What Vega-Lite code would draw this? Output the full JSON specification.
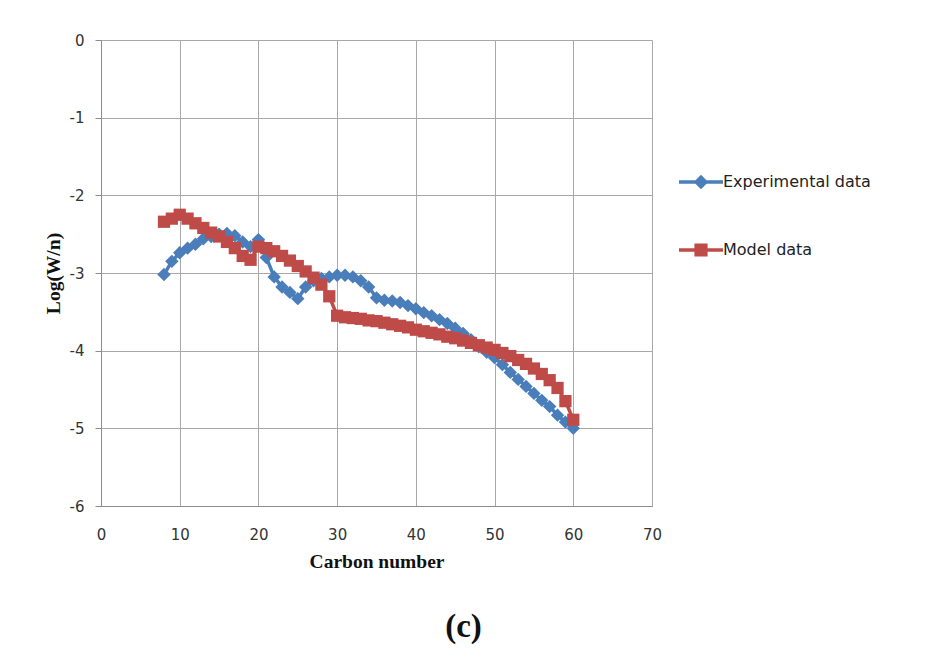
{
  "$schema": "https://vega.github.io/schema/vega-lite/v6.json",
  "description": "Log(W/n) versus carbon number, experimental against model data.",
  "width": 551,
  "height": 466,
  "autosize": {"type": "none"},
  "padding": {"left": 101, "top": 40, "right": 274, "bottom": 162},
  "background": "white",
  "config": {
    "view": {"stroke": null},
    "axis": {
      "gridColor": "#a8a8a8",
      "gridWidth": 1,
      "domainColor": "#8c8c8c",
      "tickColor": "#8c8c8c",
      "labelFont": "DejaVu Sans",
      "labelFontSize": 15,
      "labelColor": "#333333",
      "labelFlush": false,
      "labelExpr": "'' + datum.value",
      "titleFont": "Liberation Serif",
      "titleFontSize": 19.5,
      "titleFontWeight": "bold",
      "titleColor": "#111111"
    }
  },
  "title": {
    "text": "(c)",
    "orient": "bottom",
    "anchor": "middle",
    "frame": "group",
    "dx": 87,
    "offset": 40,
    "font": "Liberation Serif",
    "fontSize": 33,
    "fontWeight": "bold",
    "color": "#111111"
  },
  "data": {
    "values": [
      {"s": "Experimental data", "c": 8, "v": -3.02},
      {"s": "Experimental data", "c": 9, "v": -2.85},
      {"s": "Experimental data", "c": 10, "v": -2.74},
      {"s": "Experimental data", "c": 11, "v": -2.68},
      {"s": "Experimental data", "c": 12, "v": -2.63},
      {"s": "Experimental data", "c": 13, "v": -2.56},
      {"s": "Experimental data", "c": 14, "v": -2.53},
      {"s": "Experimental data", "c": 15, "v": -2.5},
      {"s": "Experimental data", "c": 16, "v": -2.49},
      {"s": "Experimental data", "c": 17, "v": -2.52},
      {"s": "Experimental data", "c": 18, "v": -2.6},
      {"s": "Experimental data", "c": 19, "v": -2.66},
      {"s": "Experimental data", "c": 20, "v": -2.57},
      {"s": "Experimental data", "c": 21, "v": -2.8},
      {"s": "Experimental data", "c": 22, "v": -3.05},
      {"s": "Experimental data", "c": 23, "v": -3.18},
      {"s": "Experimental data", "c": 24, "v": -3.25},
      {"s": "Experimental data", "c": 25, "v": -3.33},
      {"s": "Experimental data", "c": 26, "v": -3.18},
      {"s": "Experimental data", "c": 27, "v": -3.1},
      {"s": "Experimental data", "c": 28, "v": -3.07},
      {"s": "Experimental data", "c": 29, "v": -3.05},
      {"s": "Experimental data", "c": 30, "v": -3.03},
      {"s": "Experimental data", "c": 31, "v": -3.03},
      {"s": "Experimental data", "c": 32, "v": -3.05},
      {"s": "Experimental data", "c": 33, "v": -3.1},
      {"s": "Experimental data", "c": 34, "v": -3.18},
      {"s": "Experimental data", "c": 35, "v": -3.32},
      {"s": "Experimental data", "c": 36, "v": -3.35},
      {"s": "Experimental data", "c": 37, "v": -3.36},
      {"s": "Experimental data", "c": 38, "v": -3.38},
      {"s": "Experimental data", "c": 39, "v": -3.42},
      {"s": "Experimental data", "c": 40, "v": -3.46},
      {"s": "Experimental data", "c": 41, "v": -3.51},
      {"s": "Experimental data", "c": 42, "v": -3.55},
      {"s": "Experimental data", "c": 43, "v": -3.6},
      {"s": "Experimental data", "c": 44, "v": -3.65},
      {"s": "Experimental data", "c": 45, "v": -3.71},
      {"s": "Experimental data", "c": 46, "v": -3.78},
      {"s": "Experimental data", "c": 47, "v": -3.86},
      {"s": "Experimental data", "c": 48, "v": -3.95},
      {"s": "Experimental data", "c": 49, "v": -4.02},
      {"s": "Experimental data", "c": 50, "v": -4.09},
      {"s": "Experimental data", "c": 51, "v": -4.18},
      {"s": "Experimental data", "c": 52, "v": -4.28},
      {"s": "Experimental data", "c": 53, "v": -4.37},
      {"s": "Experimental data", "c": 54, "v": -4.46},
      {"s": "Experimental data", "c": 55, "v": -4.55},
      {"s": "Experimental data", "c": 56, "v": -4.64},
      {"s": "Experimental data", "c": 57, "v": -4.72},
      {"s": "Experimental data", "c": 58, "v": -4.83},
      {"s": "Experimental data", "c": 59, "v": -4.92},
      {"s": "Experimental data", "c": 60, "v": -5.0},
      {"s": "Model data", "c": 8, "v": -2.34},
      {"s": "Model data", "c": 9, "v": -2.3},
      {"s": "Model data", "c": 10, "v": -2.25},
      {"s": "Model data", "c": 11, "v": -2.3},
      {"s": "Model data", "c": 12, "v": -2.36},
      {"s": "Model data", "c": 13, "v": -2.42},
      {"s": "Model data", "c": 14, "v": -2.48},
      {"s": "Model data", "c": 15, "v": -2.53},
      {"s": "Model data", "c": 16, "v": -2.6},
      {"s": "Model data", "c": 17, "v": -2.68},
      {"s": "Model data", "c": 18, "v": -2.78},
      {"s": "Model data", "c": 19, "v": -2.83},
      {"s": "Model data", "c": 20, "v": -2.66},
      {"s": "Model data", "c": 21, "v": -2.68},
      {"s": "Model data", "c": 22, "v": -2.72},
      {"s": "Model data", "c": 23, "v": -2.78},
      {"s": "Model data", "c": 24, "v": -2.84},
      {"s": "Model data", "c": 25, "v": -2.91},
      {"s": "Model data", "c": 26, "v": -2.98},
      {"s": "Model data", "c": 27, "v": -3.06},
      {"s": "Model data", "c": 28, "v": -3.15},
      {"s": "Model data", "c": 29, "v": -3.3},
      {"s": "Model data", "c": 30, "v": -3.55},
      {"s": "Model data", "c": 31, "v": -3.57},
      {"s": "Model data", "c": 32, "v": -3.58},
      {"s": "Model data", "c": 33, "v": -3.59},
      {"s": "Model data", "c": 34, "v": -3.61},
      {"s": "Model data", "c": 35, "v": -3.62},
      {"s": "Model data", "c": 36, "v": -3.64},
      {"s": "Model data", "c": 37, "v": -3.66},
      {"s": "Model data", "c": 38, "v": -3.68},
      {"s": "Model data", "c": 39, "v": -3.7},
      {"s": "Model data", "c": 40, "v": -3.73},
      {"s": "Model data", "c": 41, "v": -3.75},
      {"s": "Model data", "c": 42, "v": -3.77},
      {"s": "Model data", "c": 43, "v": -3.79},
      {"s": "Model data", "c": 44, "v": -3.82},
      {"s": "Model data", "c": 45, "v": -3.84},
      {"s": "Model data", "c": 46, "v": -3.87},
      {"s": "Model data", "c": 47, "v": -3.9},
      {"s": "Model data", "c": 48, "v": -3.93},
      {"s": "Model data", "c": 49, "v": -3.96},
      {"s": "Model data", "c": 50, "v": -3.99},
      {"s": "Model data", "c": 51, "v": -4.03},
      {"s": "Model data", "c": 52, "v": -4.07},
      {"s": "Model data", "c": 53, "v": -4.12},
      {"s": "Model data", "c": 54, "v": -4.17},
      {"s": "Model data", "c": 55, "v": -4.23},
      {"s": "Model data", "c": 56, "v": -4.3},
      {"s": "Model data", "c": 57, "v": -4.38},
      {"s": "Model data", "c": 58, "v": -4.48},
      {"s": "Model data", "c": 59, "v": -4.65},
      {"s": "Model data", "c": 60, "v": -4.89}
    ]
  },
  "encoding": {
    "x": {
      "field": "c",
      "type": "quantitative",
      "scale": {"domain": [0, 70], "nice": false},
      "axis": {
        "title": "Carbon number",
        "values": [0, 10, 20, 30, 40, 50, 60, 70],
        "ticks": false,
        "labelPadding": 21,
        "titlePadding": 10
      }
    },
    "y": {
      "field": "v",
      "type": "quantitative",
      "scale": {"domain": [-6, 0], "nice": false, "zero": false},
      "axis": {
        "title": "Log(W/n)",
        "values": [-6, -5, -4, -3, -2, -1, 0],
        "tickSize": 6,
        "labelPadding": 11,
        "titlePadding": 6
      }
    },
    "color": {
      "field": "s",
      "type": "nominal",
      "scale": {"domain": ["Experimental data", "Model data"], "range": ["#4a7ebb", "#be4b48"]},
      "legend": {
        "title": null,
        "orient": "none",
        "legendX": 576,
        "legendY": 118,
        "padding": 0,
        "symbolSize": 1936,
        "rowPadding": 32,
        "labelOffset": -2,
        "labelFont": "DejaVu Sans",
        "labelFontSize": 16,
        "labelColor": "#222222",
        "encode": {
          "symbols": {
            "update": {
              "shape": {"signal": "datum.value == 'Experimental data' ? 'M-1,0H1M0,-0.22L0.22,0L0,0.22L-0.22,0Z' : 'M-1,0H1M-0.22,-0.22H0.22V0.22H-0.22Z'"},
              "fill": {"scale": "color", "field": "value"},
              "stroke": {"scale": "color", "field": "value"},
              "strokeWidth": {"value": 3.5},
              "opacity": {"value": 1},
              "fillOpacity": {"value": 1}
            }
          }
        }
      }
    }
  },
  "layer": [
    {
      "transform": [{"filter": "datum.s == 'Experimental data'"}],
      "mark": {"type": "line", "strokeWidth": 3.5}
    },
    {
      "transform": [{"filter": "datum.s == 'Experimental data'"}],
      "mark": {"type": "point", "filled": true, "shape": "diamond", "size": 180, "opacity": 1}
    },
    {
      "transform": [{"filter": "datum.s == 'Model data'"}],
      "mark": {"type": "line", "strokeWidth": 3.5}
    },
    {
      "transform": [{"filter": "datum.s == 'Model data'"}],
      "mark": {"type": "point", "filled": true, "shape": "square", "size": 150, "opacity": 1}
    }
  ]
}
